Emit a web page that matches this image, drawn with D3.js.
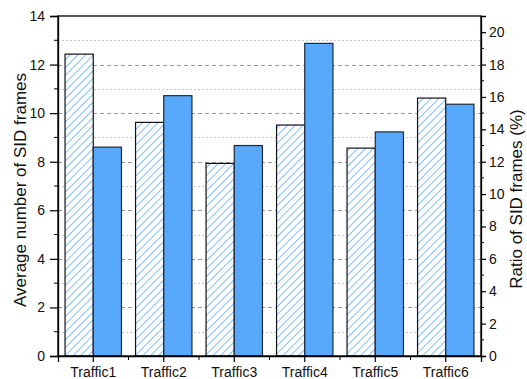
<!DOCTYPE html>
<html>
<head>
<meta charset="utf-8">
<script src="https://cdn.jsdelivr.net/npm/d3@7"></script>
<style>
  html, body { margin: 0; padding: 0; background: #fff; }
  svg { display: block; font-family: "Liberation Sans", Arial, sans-serif; }
</style>
</head>
<body>
<svg id="chart" width="527" height="379"></svg>
<script>
// Traffic categories and the two measured series
const categories = ["Traffic1", "Traffic2", "Traffic3", "Traffic4", "Traffic5", "Traffic6"];
const avgSidFrames = [12.43, 9.62, 7.93, 9.51, 8.56, 10.62];   // left axis (count)
const sidRatioPct = [12.9, 16.08, 13.0, 19.31, 13.84, 15.55];   // right axis (%)
const leftTicks = [0, 2, 4, 6, 8, 10, 12, 14];
const rightTicks = [0, 2, 4, 6, 8, 10, 12, 14, 16, 18, 20];

const svg = d3.select("#chart");
const W = 527, H = 379;
const m = { top: 16, right: 46, bottom: 23, left: 58 };
const pw = W - m.left - m.right, ph = H - m.top - m.bottom;

const x = d3.scaleBand().domain(categories).range([m.left, m.left + pw]).padding(0);
const yL = d3.scaleLinear().domain([0, 14]).range([m.top + ph, m.top]);
const yR = d3.scaleLinear().domain([0, 21]).range([m.top + ph, m.top]);

// diagonal hatch for the count bars
const defs = svg.append("defs");
const pat = defs.append("pattern")
  .attr("id", "hatch").attr("patternUnits", "userSpaceOnUse")
  .attr("width", 5.5).attr("height", 5.5)
  .attr("patternTransform", "rotate(45)");
pat.append("rect").attr("width", 5.5).attr("height", 5.5).attr("fill", "#fff");
pat.append("line").attr("x1", 0).attr("y1", 0).attr("x2", 0).attr("y2", 5.5)
  .attr("stroke", "#5aabfc").attr("stroke-width", 1.5);

// grid lines from the left axis: dashed at even values, dotted at odd ones
const gridVals = d3.range(1, 14);
svg.append("g").selectAll("line").data(gridVals).join("line")
  .attr("x1", m.left).attr("x2", m.left + pw)
  .attr("y1", d => Math.round(yL(d)) + 0.5).attr("y2", d => Math.round(yL(d)) + 0.5)
  .attr("stroke", d => d % 2 === 0 ? "#999" : "#c6c6c6")
  .attr("stroke-width", 1)
  .attr("stroke-dasharray", d => d % 2 === 0 ? "4,3" : "2,2");

const bw = x.bandwidth() * 0.4;
const bars = svg.append("g");
bars.selectAll("rect.count").data(categories).join("rect")
  .attr("class", "count")
  .attr("x", (d) => x(d) + x.bandwidth() / 2 - bw)
  .attr("y", (d, i) => yL(avgSidFrames[i]))
  .attr("width", bw)
  .attr("height", (d, i) => yL(0) - yL(avgSidFrames[i]))
  .attr("fill", "url(#hatch)")
  .attr("stroke", "#111").attr("stroke-width", 1.2);
bars.selectAll("rect.ratio").data(categories).join("rect")
  .attr("class", "ratio")
  .attr("x", (d) => x(d) + x.bandwidth() / 2)
  .attr("y", (d, i) => yR(sidRatioPct[i]))
  .attr("width", bw)
  .attr("height", (d, i) => yR(0) - yR(sidRatioPct[i]))
  .attr("fill", "#58a8fb")
  .attr("stroke", "#1d2a3a").attr("stroke-width", 1.2);

// frame
svg.append("rect").attr("x", m.left).attr("y", m.top).attr("width", pw).attr("height", ph)
  .attr("fill", "none").attr("stroke", "#000").attr("stroke-width", 1.3);

// left axis
const gL = svg.append("g").attr("transform", `translate(${m.left},0)`)
  .call(d3.axisLeft(yL).tickValues(leftTicks).tickSize(8).tickPadding(5));
gL.append("g").selectAll("line").data(d3.range(1, 14, 2)).join("line")
  .attr("x1", -4).attr("x2", 0).attr("y1", d => yL(d)).attr("y2", d => yL(d))
  .attr("stroke", "#000");

// right axis
const gR = svg.append("g").attr("transform", `translate(${m.left + pw},0)`)
  .call(d3.axisRight(yR).tickValues(rightTicks).tickSize(5).tickPadding(3));
gR.append("g").selectAll("line").data(d3.range(1, 21, 2)).join("line")
  .attr("x1", 0).attr("x2", 3).attr("y1", d => yR(d)).attr("y2", d => yR(d))
  .attr("stroke", "#000");

// bottom axis
const gB = svg.append("g").attr("transform", `translate(0,${m.top + ph})`)
  .call(d3.axisBottom(x).tickSize(6).tickPadding(5));
gB.append("g").selectAll("line").data(d3.range(1, categories.length)).join("line")
  .attr("x1", i => m.left + i * x.bandwidth()).attr("x2", i => m.left + i * x.bandwidth())
  .attr("y1", 0).attr("y2", 4).attr("stroke", "#000");

[gL, gR, gB].forEach(g => {
  g.attr("font-size", 14).attr("font-family", "'Liberation Sans', Arial, sans-serif");
  g.select(".domain").attr("stroke", "#000").attr("stroke-width", 1.3);
  g.selectAll(".tick line").attr("stroke", "#000").attr("stroke-width", 1.2);
  g.selectAll("text").attr("font-size", 14).attr("fill", "#111");
});

// axis titles
svg.append("text")
  .attr("transform", `translate(26,190) rotate(-90)`)
  .attr("text-anchor", "middle").attr("font-size", 17).attr("fill", "#111")
  .text("Average number of SID frames");
svg.append("text")
  .attr("transform", `translate(522,199) rotate(-90)`)
  .attr("text-anchor", "middle").attr("font-size", 17).attr("fill", "#111")
  .text("Ratio of SID frames (%)");
</script>
</body>
</html>
